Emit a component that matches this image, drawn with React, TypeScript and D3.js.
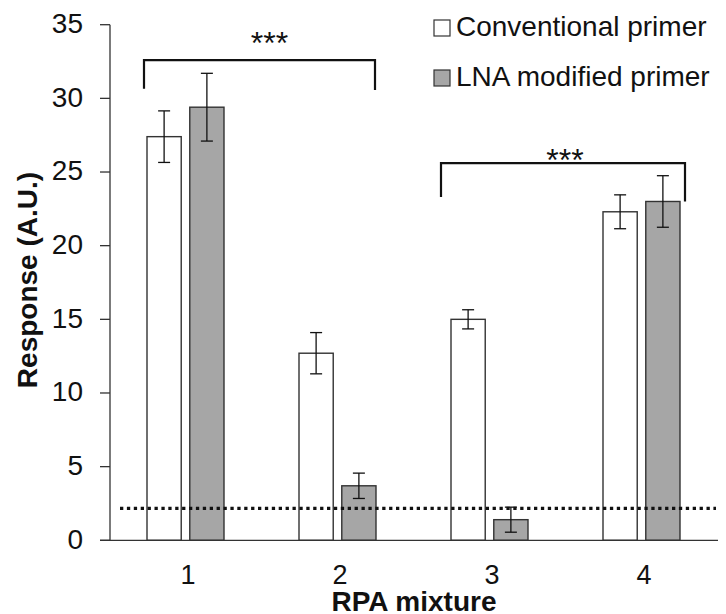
import React from 'react'
import * as d3 from 'd3'

// RPA mixtures on the x axis
const mixtures = ['1', '2', '3', '4']
const seriesKeys = ['conv', 'lna']
const seriesNames = ['Conventional primer', 'LNA modified primer']

// response values (A.U.) and their error bars
const conventional = [27.4, 12.7, 15.0, 22.3]
const conventionalErr = [1.75, 1.4, 0.65, 1.15]
const lna = [29.4, 3.7, 1.4, 23.0]
const lnaErr = [2.3, 0.86, 0.85, 1.75]

const yTicks = [0, 5, 10, 15, 20, 25, 30, 35]
const detectionLimit = 2.17

// significance brackets
const bracketFrom = ['1', '3']
const bracketTo = ['2', '4']
const bracketTop = [32.6, 25.6]
const bracketLeftEnd = [30.66, 23.3]
const bracketRightEnd = [30.57, 23.0]
const bracketLabels = ['***', '***']
const bracketLabelY = [34.2, 26.3]

const W = 726
const H = 614
const FONT = '"Liberation Sans", Arial, sans-serif'

const App = () => {
  const left = 110
  const right = 718
  const top = 24.7
  const bottom = 540.3

  const x = d3.scaleBand().domain(mixtures).range([left, right])
  const x1 = d3.scaleBand().domain(seriesKeys).range([37, 114]).paddingInner(0.2)
  const y = d3.scaleLinear().domain([0, 35]).range([bottom, top])

  const rows = mixtures.map((m, i) => ({
    m,
    bars: [
      { key: 'conv', v: conventional[i], e: conventionalErr[i] },
      { key: 'lna', v: lna[i], e: lnaErr[i] },
    ],
  }))

  const fills: Record<string, string> = { conv: '#ffffff', lna: '#a6a6a6' }
  const cap = 6
  // small nudges of the bracket ends and star labels as drawn in the original
  const bracketPad = [[-3, -1], [-10, 5]]
  const labelDx = [10, 2]

  return (
    <svg width={W} height={H} style={{ position: 'absolute', left: 0, top: 0, background: '#fff' }}
      fontFamily={FONT}>
      {/* bars */}
      {rows.map((r) => (
        <g key={r.m}>
          {r.bars.map((b) => {
            const bx = (x(r.m) ?? 0) + (x1(b.key) ?? 0)
            const bw = x1.bandwidth()
            const cx = bx + bw / 2
            return (
              <g key={b.key}>
                <rect x={bx} y={y(b.v)} width={bw} height={y(0) - y(b.v)}
                  fill={fills[b.key]} stroke="#333" strokeWidth={1.4} />
                <line x1={cx} x2={cx} y1={y(b.v + b.e)} y2={y(b.v - b.e)} stroke="#111" strokeWidth={1.3} />
                <line x1={cx - cap} x2={cx + cap} y1={y(b.v + b.e)} y2={y(b.v + b.e)} stroke="#111" strokeWidth={1.3} />
                <line x1={cx - cap} x2={cx + cap} y1={y(b.v - b.e)} y2={y(b.v - b.e)} stroke="#111" strokeWidth={1.3} />
              </g>
            )
          })}
        </g>
      ))}

      {/* detection limit */}
      <line x1={120} x2={716} y1={y(detectionLimit)} y2={y(detectionLimit)}
        stroke="#111" strokeWidth={3.3} strokeDasharray="3.3,3.6" />

      {/* axes */}
      <line x1={left} x2={left} y1={top} y2={bottom} stroke="#333" strokeWidth={1.3} />
      <line x1={left - 10} x2={right} y1={bottom} y2={bottom} stroke="#333" strokeWidth={1.3} />
      {yTicks.map((t) => (
        <g key={t}>
          <line x1={left - 10} x2={left} y1={y(t)} y2={y(t)} stroke="#333" strokeWidth={1.3} />
          <text x={83} y={y(t)} dy="0.3em" textAnchor="end" fontSize={28} fill="#111">{t}</text>
        </g>
      ))}
      {mixtures.map((m) => (
        <text key={m} x={(x(m) ?? 0) + x.bandwidth() / 2 + 2} y={584} textAnchor="middle" fontSize={27} fill="#111">
          {m}
        </text>
      ))}
      <text x={414} y={611} textAnchor="middle" fontSize={28} fontWeight="bold" fill="#111">RPA mixture</text>
      <text transform="translate(37,280) rotate(-90)" textAnchor="middle" fontSize={28} fontWeight="bold" fill="#111">
        Response (A.U.)
      </text>

      {/* significance brackets */}
      {bracketFrom.map((f, i) => {
        const x0 = (x(f) ?? 0) + (x1('conv') ?? 0) + bracketPad[i][0]
        const xe = (x(bracketTo[i]) ?? 0) + (x1('lna') ?? 0) + x1.bandwidth() + bracketPad[i][1]
        const path = `M${x0},${y(bracketLeftEnd[i])}V${y(bracketTop[i])}H${xe}V${y(bracketRightEnd[i])}`
        return (
          <g key={i}>
            <path d={path} fill="none" stroke="#111" strokeWidth={2.2} />
            <text x={(x0 + xe) / 2 + labelDx[i]} y={y(bracketLabelY[i]) + 18} textAnchor="middle"
              fontSize={32} fill="#111">{bracketLabels[i]}</text>
          </g>
        )
      })}

      {/* legend */}
      {seriesKeys.map((k, i) => (
        <g key={k} transform={`translate(434,${20 + i * 50})`}>
          <rect x={0} y={0} width={16} height={16} fill={fills[k]} stroke="#333" strokeWidth={1.2} />
          <text x={22} y={16} fontSize={28} fill="#111">{seriesNames[i]}</text>
        </g>
      ))}
    </svg>
  )
}

export default App
